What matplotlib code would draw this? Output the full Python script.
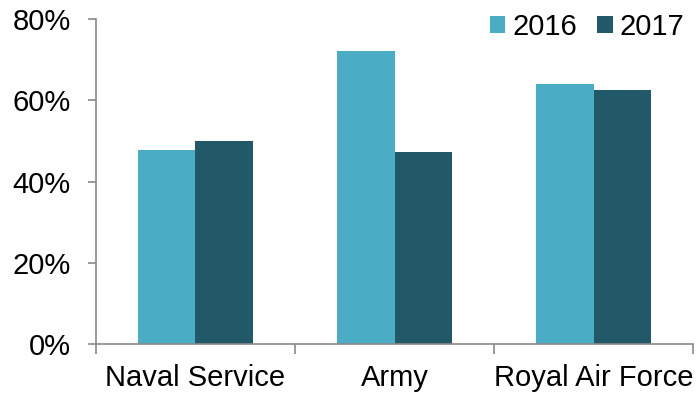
import numpy as np
import matplotlib.pyplot as plt
from matplotlib.ticker import FuncFormatter, FixedLocator

plt.rcParams['font.family'] = ['Liberation Sans', 'DejaVu Sans']

categories = ["Naval Service", "Army", "Royal Air Force"]
years = ["2016", "2017"]
vals_2016 = [47.8, 72.1, 64.0]
vals_2017 = [50.0, 47.3, 62.5]
colors = ["#4BACC6", "#215968"]

fig = plt.figure(figsize=(6.98, 3.96), dpi=100)
ax = fig.add_axes([0.1375, 0.131, 0.8555, 0.821])

x = np.arange(len(categories))
w = 0.287
ax.bar(x - w / 2, vals_2016, w, color=colors[0], label=years[0])
ax.bar(x + w / 2, vals_2017, w, color=colors[1], label=years[1])

ax.set_xlim(-0.5, 2.5)
ax.set_ylim(0, 80)
ax.set_yticks([0, 20, 40, 60, 80])
ax.yaxis.set_major_formatter(FuncFormatter(lambda v, p: f"{v:.0f}%"))

ax.xaxis.set_major_locator(FixedLocator([-0.5, 0.5, 1.5, 2.5]))
ax.xaxis.set_major_formatter(FuncFormatter(lambda v, p: ""))
ax.xaxis.set_minor_locator(FixedLocator(x))
ax.set_xticklabels(categories, minor=True)

gray = "#898989"
for s in ["top", "right"]:
    ax.spines[s].set_visible(False)
for s in ["left", "bottom"]:
    ax.spines[s].set_color(gray)
    ax.spines[s].set_linewidth(1.2)

ax.tick_params(axis="y", which="major", length=6, width=1.2, color=gray, labelsize=21, pad=12)
ax.tick_params(axis="x", which="major", length=7, width=1.2, color=gray)
ax.tick_params(axis="x", which="minor", length=0, labelsize=21, pad=14)

ax.legend(loc="upper right", bbox_to_anchor=(1.02, 1.082), ncol=2, frameon=False, fontsize=21,
          handlelength=0.52, handleheight=0.52, handletextpad=0.25, columnspacing=0.7,
          borderpad=0.2)

fig.savefig("out.png", dpi=100)
